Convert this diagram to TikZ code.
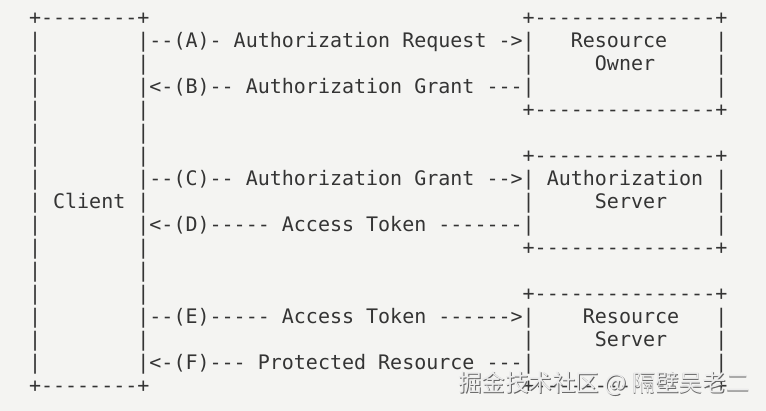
\documentclass[tikz,border=0pt]{standalone}
\usepackage{fontspec}
\setmonofont{DejaVu Sans Mono}
\newfontfamily\cjk{Noto Sans CJK SC}
\definecolor{bg}{RGB}{244,244,242}
\definecolor{ink}{RGB}{52,52,52}
\definecolor{wmshadow}{RGB}{100,100,100}
\definecolor{wmfill}{RGB}{236,236,236}
\newcommand\pc[4]{\node[asc] (#1) at ({17+#2*12.04},{-(25+#3*23)}) {#4};}
\begin{document}
\begin{tikzpicture}[x=1pt,y=1pt,
  asc/.style={anchor=base west, inner sep=0pt, outer sep=0pt,
    font=\ttfamily\fontsize{20}{23}\selectfont, text=ink},
  wm/.style={inner sep=0pt, font=\cjk\fontsize{23.5}{24}\selectfont}]
\fill[bg] (0,0) rectangle (766,-411);
\useasboundingbox (0,0) rectangle (766,-411);
% client box
\pc{ctop}{1}{0}{+--------+}
\pc{cbot}{1}{16}{+--------+}
\foreach \r in {1,...,15} {\pc{cl\r}{1}{\r}{|}}
\foreach \r in {2,4,5,6,8,10,11,12,14} {\pc{cr\r}{10}{\r}{|}}
\pc{client}{3}{8}{Client}
% arrows
\pc{arrA}{10}{1}{|--(A)- Authorization Request ->|}
\pc{arrB}{10}{3}{|<-(B)-- Authorization Grant ---|}
\pc{arrC}{10}{7}{|--(C)-- Authorization Grant -->|}
\pc{arrD}{10}{9}{|<-(D)----- Access Token -------|}
\pc{arrE}{10}{13}{|--(E)----- Access Token ------>|}
\pc{arrF}{10}{15}{|<-(F)--- Protected Resource ---|}
% resource owner box
\pc{rotop}{42}{0}{+---------------+}
\pc{robot}{42}{4}{+---------------+}
\pc{rol2}{42}{2}{|}
\foreach \r in {1,2,3} {\pc{ror\r}{58}{\r}{|}}
\pc{ro1}{46}{1}{Resource}
\pc{ro2}{48}{2}{Owner}
% authorization server box
\pc{astop}{42}{6}{+---------------+}
\pc{asbot}{42}{10}{+---------------+}
\pc{asl8}{42}{8}{|}
\foreach \r in {7,8,9} {\pc{asr\r}{58}{\r}{|}}
\pc{as1}{44}{7}{Authorization}
\pc{as2}{48}{8}{Server}
% resource server box
\pc{rstop}{42}{12}{+---------------+}
\pc{rsbot}{42}{16}{+---------------+}
\pc{rsl14}{42}{14}{|}
\foreach \r in {13,14,15} {\pc{rsr\r}{58}{\r}{|}}
\pc{rs1}{47}{13}{Resource}
\pc{rs2}{48}{14}{Server}
% watermark
\node[wm, text=wmshadow] (wmsh) at (604.8,-384.8) {掘金技术社区 @ 隔壁吴老二};
\node[wm, text=wmfill] (wmtx) at (604,-384) {掘金技术社区 @ 隔壁吴老二};
\end{tikzpicture}
\end{document}
